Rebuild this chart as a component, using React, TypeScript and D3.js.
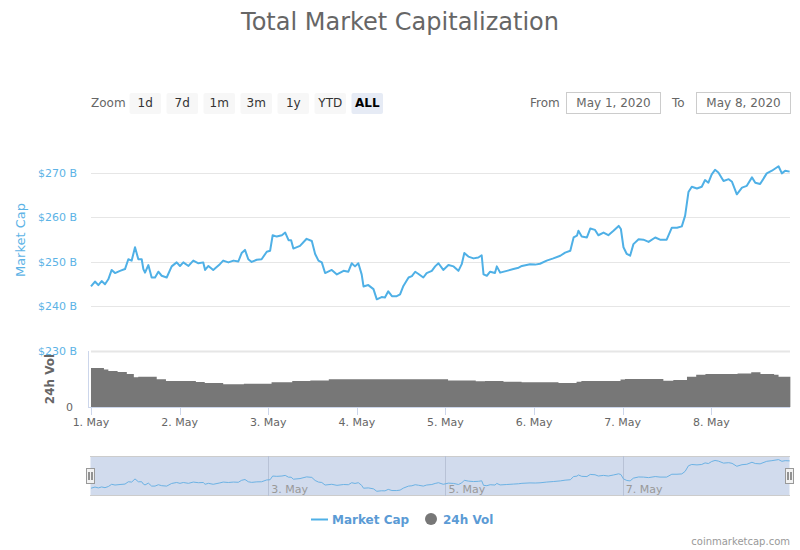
import React from "react";
import * as d3 from "d3";

const MC_HOURS = [0,1.08,1.99,2.89,3.79,4.69,5.6,6.5,7.86,9.21,10.11,11.02,11.92,12.82,13.73,14.18,14.63,15.53,16.43,17.34,18.24,19.14,20.5,21.85,23.2,24.1,25.0,26.4,27.7,29.1,30.4,30.9,31.8,33.1,34.9,35.8,37.2,38.6,39.9,40.8,41.7,42.6,43.5,44.9,46.2,47.6,48.5,49.2,50.3,51.7,52.6,53.5,54.2,54.8,56.6,58.4,59.8,60.7,61.6,62.5,63.4,65.2,66.6,68.4,69.7,70.6,71.5,72.4,73.3,73.8,75.1,76.5,77.4,78.7,79.6,80.5,81.5,82.8,83.7,84.6,86.0,86.9,87.8,88.7,90.0,90.9,92.3,93.2,94.1,95.4,96.8,98.2,99.5,100.4,101.1,102.2,103.6,104.9,105.8,106.3,107.2,108.1,109.4,109.9,110.8,112.6,114.4,115.8,116.7,118.9,120.3,121.6,123.4,125.2,127.1,128.4,129.8,130.7,131.6,132.0,132.9,134.3,135.2,136.5,137.4,138.8,140.1,141.5,142.9,143.5,144.2,145.1,146.0,146.9,148.3,149.6,151.0,152.8,154.1,155.9,157.3,158.7,160.0,160.9,161.8,162.7,164.1,165.4,166.3,167.2,168.1,169.0,169.9,171.3,172.7,173.6,174.9,176.3,177.6,179.0,179.9,181.2,183.0,184.4,186.2,187.1,188.0,189.2];
const MC_VALUES = [244.4,245.5,244.7,245.6,244.9,246.0,248.1,247.4,247.9,248.3,250.5,250.2,253.2,250.5,250.5,248.3,247.5,249.2,246.4,246.4,247.7,246.8,246.4,248.9,249.8,249.0,249.8,249.0,250.2,249.6,249.8,248.1,249.0,248.1,249.4,250.2,249.8,250.2,250.0,251.9,252.6,250.5,249.9,250.4,250.5,252.2,252.4,255.9,255.6,255.9,256.5,254.8,254.8,252.9,253.5,255.1,254.6,251.7,250.2,249.8,247.4,248.1,247.1,247.9,247.7,249.6,248.9,249.6,247.1,244.4,244.7,243.8,241.5,242.0,241.9,243.3,242.2,242.2,242.6,244.5,246.4,246.7,247.7,247.2,246.4,247.4,247.9,248.9,249.6,248.1,249.2,248.9,247.9,249.4,251.9,251.1,250.7,250.9,251.4,247.1,246.8,247.7,247.4,248.9,247.5,247.9,248.3,248.6,249.0,249.4,249.3,249.5,250.2,250.7,251.3,252.0,252.4,255.4,255.8,256.9,255.6,255.4,257.4,257.1,255.9,256.5,255.9,256.9,258.0,257.3,253.2,251.7,251.3,253.9,255.0,254.9,254.4,255.4,254.9,254.9,257.6,257.6,257.9,260.3,265.6,266.8,266.4,266.8,268.3,267.7,269.6,270.6,270.0,268.1,268.5,267.9,265.1,266.6,267.0,268.9,267.7,267.4,269.8,270.4,271.4,269.8,270.4,270.2];

const VOL_HOURS = [0,3.5,4.7,7.2,9.7,11.6,12.8,17.8,20.3,28.4,30.8,35.8,41.4,48.9,54.5,59.4,64.4,84.3,96.7,104.2,106.7,111.7,116.6,126.6,131.5,132.8,143.4,144.6,155,157.7,161.4,163.9,166.4,175.1,178.8,181.3,185,186.2,189.4];
const VOL_VALUES = [139,134,129,125,118,106,108,99,93,89,86,81,83,88,93,95,99,99,95,92,93,90,88,86,90,93,98,100,94,96,108,115,118,120,124,118,115,108,107];

const MC_TICKS = [230, 240, 250, 260, 270];
const MC_TICK_LABELS = ["$230 B", "$240 B", "$250 B", "$260 B", "$270 B"];
const DAY_HOURS = [0, 24, 48, 72, 96, 120, 144, 168];
const DAY_LABELS = ["1. May", "2. May", "3. May", "4. May", "5. May", "6. May", "7. May", "8. May"];
const NAV_HOURS = [48, 96, 144];
const NAV_LABELS = ["3. May", "5. May", "7. May"];
const ZOOM_BUTTONS = ["1d", "7d", "1m", "3m", "1y", "YTD", "ALL"];

const FONT = "'DejaVu Sans', sans-serif";
const BLUE = "#4fb0e6";
const LABEL_BLUE = "#5cb3e6";

export default function App() {
  const x = d3.scaleLinear().domain([0, 189.3]).range([91, 790]);
  const y = d3.scaleLinear().domain([230, 270]).range([350.5, 172.5]);
  const yv = d3.scaleLinear().domain([0, 200]).range([407, 351]);
  const ny = d3.scaleLinear().domain([241.3, 271.5]).range([491.5, 459.5]);

  const mc = MC_HOURS.map((h, i) => [h, MC_VALUES[i]] as [number, number]);
  const vol = VOL_HOURS.map((h, i) => [h, VOL_VALUES[i]] as [number, number]);

  const line = d3.line<[number, number]>().x(d => x(d[0])).y(d => y(d[1]));
  const navLine = d3.line<[number, number]>().x(d => x(d[0])).y(d => ny(d[1]));
  const area = d3.area<[number, number]>().x(d => x(d[0])).y0(yv(0)).y1(d => yv(d[1])).curve(d3.curveStepAfter);

  return (
    <svg width={800} height={550} style={{ position: "absolute", left: 0, top: 0, fontFamily: FONT }}>
      <rect width={800} height={550} fill="#fff" />
      <text x={400} y={30} textAnchor="middle" fontSize={24} fill="#666">Total Market Capitalization</text>

      {/* range selector */}
      <text x={91} y={107} fontSize={12} fill="#666">Zoom</text>
      {ZOOM_BUTTONS.map((b, i) => {
        const bx = 129.5 + i * 37;
        const sel = b === "ALL";
        return (
          <g key={b}>
            <rect x={bx} y={93} width={31.5} height={21} rx={2} fill={sel ? "#e6ebf5" : "#f7f7f7"} />
            <text x={bx + 15.75} y={107} textAnchor="middle" fontSize={12} fill={sel ? "#000" : "#333"} fontWeight={sel ? "bold" : "normal"}>{b}</text>
          </g>
        );
      })}
      <text x={530} y={107} fontSize={12} fill="#666">From</text>
      <rect x={566.5} y={92.5} width={94} height={21} fill="#fff" stroke="#ccc" />
      <text x={613.5} y={107} textAnchor="middle" fontSize={12} fill="#666">May 1, 2020</text>
      <text x={672} y={107} fontSize={12} fill="#666">To</text>
      <rect x={696.5} y={92.5} width={94} height={21} fill="#fff" stroke="#ccc" />
      <text x={743.5} y={107} textAnchor="middle" fontSize={12} fill="#666">May 8, 2020</text>

      {/* gridlines */}
      {MC_TICKS.map((t, i) => (
        <g key={t}>
          <line x1={91} x2={790} y1={Math.round(y(t)) + 0.5} y2={Math.round(y(t)) + 0.5} stroke="#e6e6e6" strokeWidth={t === 230 ? 2 : 1} />
          <text x={77} y={y(t) + 4} textAnchor="end" fontSize={11} fill={LABEL_BLUE}>{MC_TICK_LABELS[i]}</text>
        </g>
      ))}
      <text transform={`translate(25,240) rotate(-90)`} textAnchor="middle" fontSize={13} fill={LABEL_BLUE}>Market Cap</text>

      {/* market cap line */}
      <path d={line(mc) || ""} fill="none" stroke={BLUE} strokeWidth={2} strokeLinejoin="round" />

      {/* volume */}
      <path d={area(vol) || ""} fill="#777" />
      <line x1={88.5} x2={88.5} y1={351} y2={407} stroke="#ccd6eb" />
      <line x1={88} x2={790} y1={407.5} y2={407.5} stroke="#ccd6eb" />
      <text x={73} y={410.5} textAnchor="end" fontSize={11} fill="#666">0</text>
      <text transform={`translate(54,379) rotate(-90)`} textAnchor="middle" fontSize={12} fontWeight="bold" fill="#666">24h Vol</text>

      {DAY_HOURS.map((h, i) => (
        <g key={h}>
          <line x1={Math.round(x(h)) + 0.5} x2={Math.round(x(h)) + 0.5} y1={407} y2={415} stroke="#ccd6eb" />
          <text x={x(h)} y={426} textAnchor="middle" fontSize={11} fill="#666">{DAY_LABELS[i]}</text>
        </g>
      ))}

      {/* navigator */}
      <rect x={90.5} y={456.5} width={699} height={39} fill="#d1dbed" />
      <line x1={90} x2={790} y1={456.5} y2={456.5} stroke="#cccccc" />
      <line x1={90} x2={790} y1={495.5} y2={495.5} stroke="#cccccc" />
      {NAV_HOURS.map((h, i) => (
        <g key={h}>
          <line x1={Math.round(x(h)) + 0.5} x2={Math.round(x(h)) + 0.5} y1={456} y2={496} stroke="#b8c2d6" />
          <text x={x(h) + 3} y={492.5} fontSize={11} fill="#999">{NAV_LABELS[i]}</text>
        </g>
      ))}
      <path d={navLine(mc) || ""} fill="none" stroke="#6cb2e4" strokeWidth={1} />
      {[90.5, 789.5].map(hx => (
        <g key={hx}>
          <rect x={hx - 4} y={468.5} width={8} height={15} fill="#f2f2f2" stroke="#999" />
          <line x1={hx - 1.5} x2={hx - 1.5} y1={472} y2={480} stroke="#333" />
          <line x1={hx + 1.5} x2={hx + 1.5} y1={472} y2={480} stroke="#333" />
        </g>
      ))}

      {/* legend */}
      <line x1={311} x2={328} y1={519.5} y2={519.5} stroke={BLUE} strokeWidth={2} />
      <text x={332} y={524} fontSize={12} fontWeight="bold" fill="#5b9bd5">Market Cap</text>
      <circle cx={431} cy={519} r={6} fill="#777" />
      <text x={443} y={524} fontSize={12} fontWeight="bold" fill="#5b9bd5">24h Vol</text>

      <text x={790} y={545} textAnchor="end" fontSize={10} fill="#999">coinmarketcap.com</text>
    </svg>
  );
}
